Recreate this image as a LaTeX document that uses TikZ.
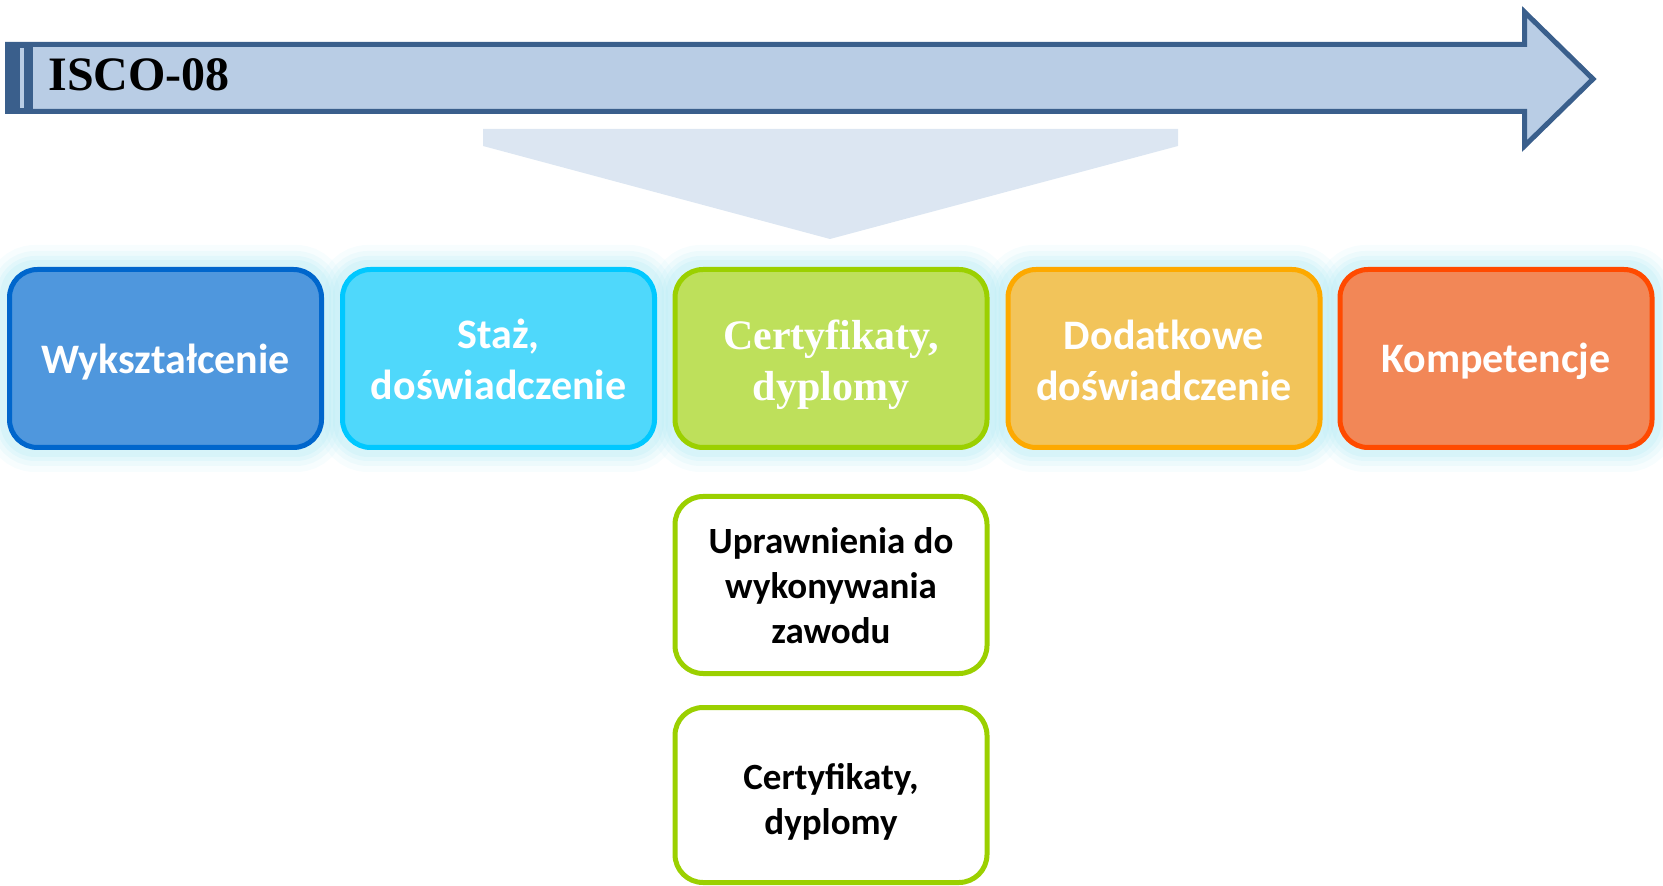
\documentclass[tikz,border=0pt]{standalone}
\usepackage{fontspec}
\newfontfamily\carlito{Carlito}
\newfontfamily\timesf{Liberation Serif}
\usetikzlibrary{backgrounds}
\definecolor{arrfill}{HTML}{B9CDE5}
\definecolor{arrdraw}{HTML}{3A5F8C}
\definecolor{funnel}{HTML}{DCE6F2}
\definecolor{glowc}{HTML}{B0E9F4}
\definecolor{fA}{HTML}{4F97DD}\definecolor{dA}{HTML}{0066CC}
\definecolor{fB}{HTML}{4FD8FB}\definecolor{dB}{HTML}{00C8FF}
\definecolor{fC}{HTML}{BEE05B}\definecolor{dC}{HTML}{9BD000}
\definecolor{fD}{HTML}{F2C45A}\definecolor{dD}{HTML}{FDA900}
\definecolor{fE}{HTML}{F28757}\definecolor{dE}{HTML}{FF4A00}
\tikzset{
  topbox/.style={rounded corners=14pt, line width=2.5pt, minimum width=156pt, minimum height=89pt, inner sep=0pt},
  toptext/.style={inner sep=0pt, align=center, text=white, font={\carlito\bfseries\fontsize{21}{25.5}\selectfont}},
  subbox/.style={rounded corners=14pt, line width=2.5pt, draw=dC, fill=white, minimum width=156pt, inner sep=0pt},
  subtext/.style={inner sep=0pt, align=center, text=black, font={\carlito\bfseries\fontsize{18.5}{22.5}\selectfont}},
  glowline/.style={draw=glowc, rounded corners=14pt}
}
\begin{document}
\begin{tikzpicture}[x=0.5pt,y=-0.5pt]
\useasboundingbox (0,0) rectangle (1663,886);
% big arrow
\draw[fill=arrfill, draw=arrdraw, line width=2.5pt, line join=miter]
  (7.5,44.5) -- (1524.5,44.5) -- (1524.5,12) -- (1593,79) -- (1524.5,146) -- (1524.5,111.5) -- (7.5,111.5) -- cycle;
\fill[arrdraw] (5,42) rectangle (33,114);
\fill[arrfill] (19.5,48) rectangle (23.5,108);
\node[anchor=base west, inner sep=0pt, font={\timesf\bfseries\fontsize{24}{28}\selectfont}] (isco) at (48,91) {ISCO-08};
% funnel
\fill[funnel] (483,129) -- (1178,129) -- (1178,146) -- (830,239) -- (483,146) -- cycle;
% top boxes
\node[topbox, draw=dA, fill=fA] (b1) at (165.5,358.5) {};
\node[topbox, draw=dB, fill=fB] (b2) at (498.5,358.5) {};
\node[topbox, draw=dC, fill=fC] (b3) at (831,358.5) {};
\node[topbox, draw=dD, fill=fD] (b4) at (1164,358.5) {};
\node[topbox, draw=dE, fill=fE] (b5) at (1496,358.5) {};
\node[toptext] (t1) at ([yshift=-1.6pt]b1.center) {Wykształcenie};
\node[toptext] (t2) at ([yshift=-0.5pt]b2.center) {Staż,\\doświadczenie};
\node[toptext, font={\timesf\bfseries\fontsize{21}{25.5}\selectfont}] (t3) at ([yshift=-2.9pt]b3.center) {Certyfikaty,\\dyplomy};
\node[toptext] (t4) at ([yshift=-0.8pt]b4.center) {Dodatkowe\\doświadczenie};
\node[toptext] (t5) at ([yshift=-1.6pt]b5.center) {Kompetencje};
\begin{scope}[on background layer]
\foreach \n in {b1,b2,b3,b4,b5}{
  \draw[glowline, line width=22pt, draw opacity=0.10] (\n.south west) rectangle (\n.north east);
  \draw[glowline, line width=16pt, draw opacity=0.14] (\n.south west) rectangle (\n.north east);
  \draw[glowline, line width=11pt, draw opacity=0.18] (\n.south west) rectangle (\n.north east);
  \draw[glowline, line width=7pt, draw opacity=0.22] (\n.south west) rectangle (\n.north east);
}
\end{scope}
% lower boxes
\node[subbox, minimum height=88.5pt] (u1) at (831,585) {};
\node[subbox, minimum height=87.5pt] (u2) at (831,795) {};
\node[subtext] (s1) at ([yshift=-0.3pt]u1.center) {Uprawnienia do\\wykonywania\\zawodu};
\node[subtext] (s2) at ([yshift=-3.2pt]u2.center) {Certyfikaty,\\dyplomy};
\end{tikzpicture}
\end{document}
